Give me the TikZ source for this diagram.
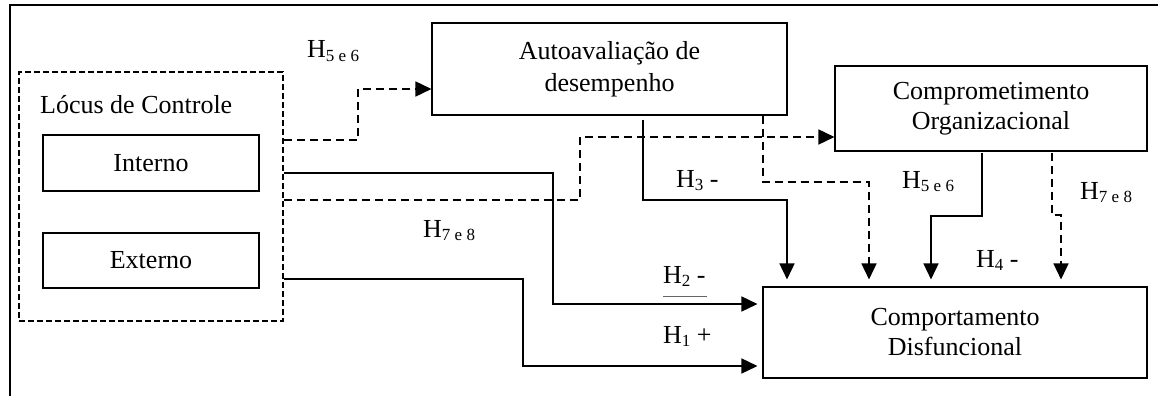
\documentclass[tikz,border=0pt]{standalone}
\usepackage{fontspec}
\setmainfont{Liberation Serif}
\usetikzlibrary{arrows.meta}
% subscript as used in the hypothesis labels
\newcommand{\hsub}[1]{\raisebox{-3pt}{\fontsize{17}{17}\selectfont #1}}
\begin{document}
\begin{tikzpicture}[x=1pt,y=-1pt,
  font=\fontsize{26}{30}\selectfont,
  box/.style={draw, line width=1.1pt, inner sep=0pt, align=center},
  conn/.style={line width=1.6pt, -{Triangle[length=16pt,width=15pt]}},
  dsh/.style={conn, dash pattern=on 8pt off 5pt},
  lbl/.style={anchor=base west, inner sep=0pt}]
\useasboundingbox (0,0) rectangle (1158,396);

% frame (top and left sides)
\draw[line width=2pt] (10,396) -- (10,5) -- (1158,5);

% locus of control group
\node[box, dash pattern=on 6pt off 3pt, line width=1.6pt,
      minimum width=264pt, minimum height=249pt] (loc) at (151,196.5) {};
\node[lbl] (loctitle) at (40,113) {Lócus de Controle};
\node[box, minimum width=216pt, minimum height=56pt] (int) at (151,163) {Interno};
\node[box, minimum width=216pt, minimum height=55pt] (ext) at (151,260.5) {Externo};

% mediators and outcome
\node[box, minimum width=355pt, minimum height=92pt] (auto) at (609.5,69)
  {Autoavaliação de\\[2pt]desempenho};
\node[box, minimum width=312pt, minimum height=85pt] (comp) at (991,108.5)
  {Comprometimento\\Organizacional};
\node[box, minimum width=384pt, minimum height=91pt] (comport) at (955,332.5)
  {Comportamento\\Disfuncional};

% connectors from the locus group
\draw[dsh] (loc.east |- 0,140) -| (358,89) -- (auto.west |- 0,89);
\draw[dsh] (loc.east |- 0,200) -| (580,137) -- (comp.west |- 0,137);
\draw[conn, shorten >=5pt] (loc.east |- 0,173) -| (553,304) -- (comport.west |- 0,304);
\draw[conn, shorten >=5pt] (loc.east |- 0,279) -| (523,366) -- (comport.west |- 0,366);

% connectors from the mediators
\draw[conn, shorten <=4pt, shorten >=7pt] (auto.south -| 643,0) -- (643,200) -| (comport.north -| 787,0);
\draw[dsh, shorten >=7pt] (auto.south -| 763,0) -- (763,182) -| (comport.north -| 869,0);
\draw[conn, shorten <=1pt, shorten >=7pt] (comp.south -| 982,0) -- (982,216) -| (comport.north -| 931,0);
\draw[dsh, shorten <=1pt, shorten >=7pt] (comp.south -| 1052,0) -- (1052,215) -| (comport.north -| 1061,0);

% hypothesis labels
\node[lbl] (h56a) at (307,58) {H\hsub{5 e 6}};
\node[lbl] (h78a) at (423,237) {H\hsub{7 e 8}};
\node[lbl] (h3) at (676,187) {H\hsub{3} -};
\node[lbl] (h2) at (663,283) {H\hsub{2} -};
\draw[line width=1pt, black!60] (663,296) -- (707,296);
\node[lbl] (h1) at (663,343) {H\hsub{1} +};
\node[lbl] (h56b) at (902,188) {H\hsub{5 e 6}};
\node[lbl] (h78b) at (1080,199) {H\hsub{7 e 8}};
\node[lbl] (h4) at (976,267) {H\hsub{4} -};
\end{tikzpicture}
\end{document}
